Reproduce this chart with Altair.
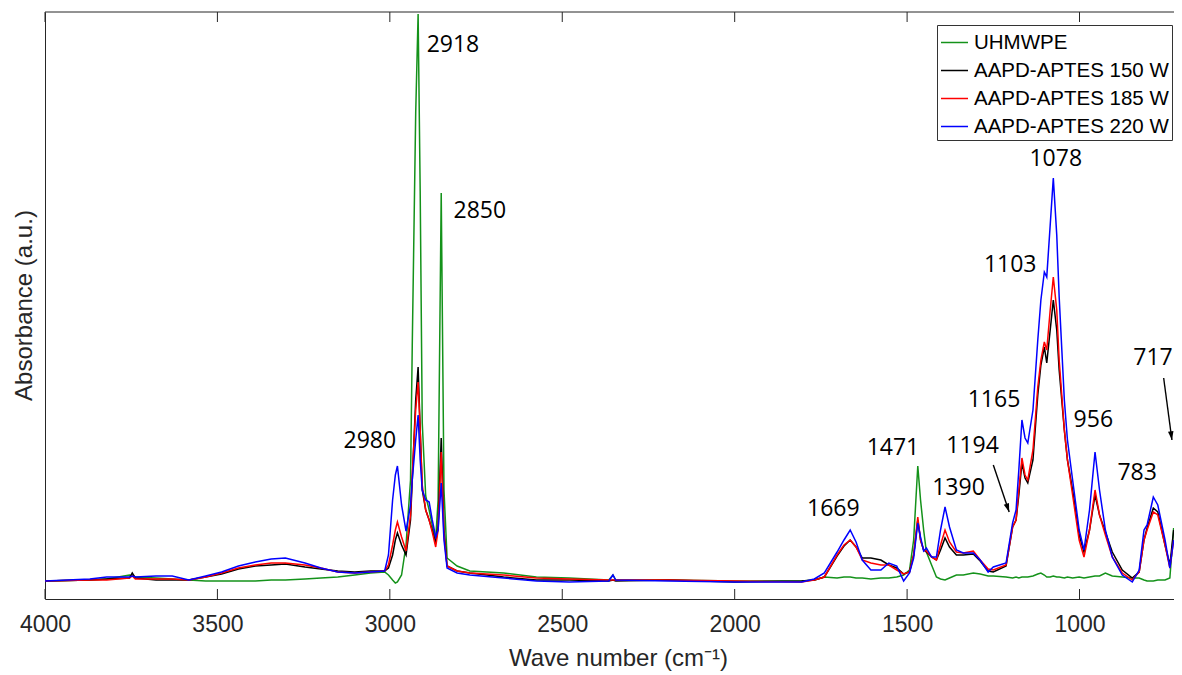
import altair as alt
import pandas as pd

# ---------------- data ----------------
WAVENUMBER = [4000, 3870, 3821, 3755, 3747, 3738, 3678, 3631, 3583, 3534,
              3488, 3439, 3390, 3344, 3303, 3246, 3200, 3151, 3102, 3056,
              3015, 3004, 2992, 2984, 2978, 2966, 2953, 2940, 2935, 2925,
              2918, 2912, 2906, 2896, 2886, 2877, 2867, 2860, 2851, 2843,
              2834, 2805, 2768, 2670, 2575, 2480, 2365, 2353, 2345, 2192,
              1999, 1806, 1769, 1740, 1703, 1683, 1665, 1648, 1630, 1605,
              1576, 1553, 1530, 1510, 1493, 1481, 1469, 1461, 1452, 1444,
              1429, 1415, 1403, 1390, 1377, 1357, 1337, 1308, 1288, 1265,
              1250, 1213, 1194, 1184, 1176, 1167, 1158, 1150, 1135, 1121,
              1112, 1102, 1095, 1085, 1076, 1066, 1059, 1044, 1035, 1020,
              1001, 987, 971, 955, 942, 925, 905, 876, 847, 827,
              813, 804, 786, 773, 752, 738, 727]

UHMWPE = [18, 19, 20, 24, 23, 22, 21, 20, 19, 18,
          18, 18, 18, 19, 19, 20, 21, 22, 24, 26,
          27, 24, 19, 16, 17, 24, 54, 119, 253, 486,
          585, 408, 176, 103, 89, 74, 60, 99, 406, 109,
          41, 33, 28, 26, 22, 21, 19, 24, 19, 19,
          18, 18, 19, 22, 21, 22, 22, 21, 21, 20,
          21, 21, 22, 24, 29, 59, 133, 99, 69, 47,
          34, 22, 20, 19, 21, 24, 24, 26, 25, 23,
          23, 22, 21, 22, 21, 22, 22, 22, 23, 25,
          26, 24, 22, 22, 23, 22, 22, 21, 22, 21,
          22, 21, 22, 23, 23, 26, 23, 22, 21, 21,
          19, 18, 18, 19, 19, 21, 71]

APTES_150 = [18, 19, 20, 21, 26, 21, 19, 19, 19, 22,
             25, 30, 33, 34, 35, 32, 30, 28, 27, 28,
             28, 31, 44, 59, 66, 54, 44, 79, 119, 199,
             232, 169, 109, 89, 79, 69, 56, 74, 161, 69,
             33, 28, 26, 22, 19, 19, 18, 19, 18, 19,
             17, 18, 19, 22, 43, 53, 59, 52, 41, 41,
             39, 34, 31, 25, 27, 44, 79, 59, 49, 47,
             42, 39, 49, 61, 52, 44, 44, 45, 38, 28,
             27, 33, 72, 79, 104, 136, 121, 116, 139, 204,
             234, 252, 236, 269, 299, 269, 229, 169, 139, 109,
             64, 47, 69, 104, 84, 67, 47, 29, 21, 27,
             59, 71, 91, 87, 54, 34, 69]

APTES_185 = [18, 19, 19, 21, 23, 20, 20, 20, 19, 22,
             26, 31, 34, 36, 36, 34, 31, 27, 26, 27,
             28, 34, 54, 69, 77, 62, 48, 84, 124, 189,
             217, 169, 114, 89, 79, 67, 52, 69, 147, 64,
             33, 28, 26, 24, 21, 20, 19, 19, 19, 19,
             18, 17, 19, 22, 44, 54, 59, 52, 39, 36,
             34, 34, 29, 25, 27, 44, 82, 59, 49, 48,
             42, 39, 54, 69, 57, 47, 46, 48, 39, 30,
             29, 34, 72, 79, 109, 141, 124, 119, 149, 212,
             239, 257, 249, 289, 322, 289, 239, 169, 139, 104,
             59, 42, 69, 109, 84, 64, 42, 26, 19, 27,
             59, 69, 87, 84, 54, 31, 59]

APTES_220 = [18, 20, 22, 22, 23, 22, 23, 23, 19, 23,
             27, 33, 37, 40, 41, 36, 31, 27, 26, 27,
             28, 44, 99, 124, 133, 94, 68, 94, 119, 159,
             184, 139, 109, 99, 97, 79, 62, 69, 116, 59,
             31, 26, 24, 21, 18, 17, 18, 24, 19, 18,
             17, 17, 20, 26, 47, 59, 69, 57, 39, 29,
             29, 36, 33, 18, 26, 41, 76, 62, 48, 51,
             42, 42, 69, 92, 72, 49, 46, 46, 39, 27,
             32, 36, 76, 89, 129, 179, 161, 156, 189, 259,
             299, 327, 322, 374, 421, 364, 302, 199, 159, 119,
             69, 49, 89, 147, 109, 69, 42, 24, 17, 29,
             69, 74, 102, 94, 59, 31, 59]

SERIES_NAMES = ["UHMWPE", "AAPD-APTES 150 W", "AAPD-APTES 185 W", "AAPD-APTES 220 W"]
SERIES_COLORS = ["#14921a", "#000000", "#ff0000", "#0000ff"]

TICK_VALUES = [4000, 3500, 3000, 2500, 2000, 1500, 1000]

PEAK_LABELS = ["2918", "2850", "2980", "1669", "1471", "1390", "1194",
               "1165", "1103", "1078", "956", "783", "717"]
PEAK_LABEL_WN = [2817, 2739, 3058, 1714, 1541, 1351, 1310, 1248, 1201, 1069, 960, 833, 787]
PEAK_LABEL_H = [554, 388, 158, 90, 151, 111, 153, 199, 334, 440, 179, 126, 241]

ARROW_START_WN = [1250, 756]
ARROW_START_H = [134, 221]
ARROW_END_WN = [1204, 732]
ARROW_END_H = [87, 159]
ARROW_ANGLE = [341, 352]

# ---------------- tables ----------------
rows = []
for name, vals in zip(SERIES_NAMES, [UHMWPE, APTES_150, APTES_185, APTES_220]):
    for wn, v in zip(WAVENUMBER, vals):
        rows.append({"series": name, "wn": wn, "absorbance": v})
spectra = pd.DataFrame(rows)

ticks_df = pd.DataFrame({"wn": TICK_VALUES})
labels_df = pd.DataFrame({"label": PEAK_LABELS, "wn": PEAK_LABEL_WN, "h": PEAK_LABEL_H})
arrows_df = pd.DataFrame({"x1": ARROW_START_WN, "y1": ARROW_START_H,
                          "x2": ARROW_END_WN, "y2": ARROW_END_H, "angle": ARROW_ANGLE})
edge_df = pd.DataFrame({"k": [0]})

W, H = 1129, 587
FONT = "Liberation Sans"
AXC = "#262626"

xscale = alt.Scale(domain=[726, 4000], reverse=True, nice=False, zero=False)
yscale = alt.Scale(domain=[0, 587], nice=False, zero=False)

lines = alt.Chart(spectra).mark_line(strokeWidth=1.5, clip=True).encode(
    x=alt.X("wn:Q", scale=xscale,
            axis=alt.Axis(values=TICK_VALUES, format="d", ticks=False, grid=False,
                          labelFont=FONT, labelFontSize=23, labelColor=AXC,
                          labelPadding=14, labelFlush=False, labelOverlap=False,
                          domainColor=AXC, domainWidth=1,
                          title="Wave number (cm⁻¹)", titleFont=FONT, titleFontSize=24,
                          titleFontWeight="normal", titleColor=AXC,
                          titleX=573, titleY=66, titleBaseline="alphabetic")),
    y=alt.Y("absorbance:Q", scale=yscale,
            axis=alt.Axis(labels=False, ticks=False, grid=False,
                          domainColor=AXC, domainWidth=1,
                          title="Absorbance (a.u.)", titleFont=FONT, titleFontSize=24,
                          titleFontWeight="normal", titleColor=AXC,
                          titleX=-14, titleY=293, titleBaseline="alphabetic")),
    color=alt.Color("series:N",
                    scale=alt.Scale(domain=SERIES_NAMES, range=SERIES_COLORS),
                    legend=alt.Legend(title=None, orient="none", legendX=892, legendY=13,
                                      symbolType="stroke", symbolSize=729,
                                      symbolStrokeWidth=1.5, labelFont=FONT,
                                      labelFontSize=20.5, labelColor="#000000",
                                      labelOffset=5, labelLimit=400, padding=3,
                                      rowPadding=3, strokeColor="#333333",
                                      fillColor="#ffffff", cornerRadius=0)),
    order=alt.Order("wn:Q"),
)

bottom_ticks = alt.Chart(ticks_df).mark_rule(color=AXC, strokeWidth=1).encode(
    x=alt.X("wn:Q", scale=xscale), y=alt.value(H), y2=alt.value(H - 10))
top_ticks = alt.Chart(ticks_df).mark_rule(color=AXC, strokeWidth=1).encode(
    x=alt.X("wn:Q", scale=xscale), y=alt.value(0), y2=alt.value(10))
top_border = alt.Chart(edge_df).mark_rule(color=AXC, strokeWidth=1).encode(
    x=alt.value(0), x2=alt.value(W), y=alt.value(0))

peak_text = alt.Chart(labels_df).mark_text(
    font="Open Sans", fontSize=23, color="#000000", align="center", baseline="middle"
).encode(x=alt.X("wn:Q", scale=xscale), y=alt.Y("h:Q", scale=yscale), text="label:N")

arrow_lines = alt.Chart(arrows_df).mark_rule(color="#000000", strokeWidth=1.4).encode(
    x=alt.X("x1:Q", scale=xscale), y=alt.Y("y1:Q", scale=yscale),
    x2="x2:Q", y2="y2:Q")
arrow_heads = alt.Chart(arrows_df).mark_point(
    shape="M0,0L-0.32,-1L0.32,-1Z", filled=True, color="#000000", size=300, opacity=1
).encode(x=alt.X("x2:Q", scale=xscale), y=alt.Y("y2:Q", scale=yscale),
         angle=alt.Angle("angle:Q", scale=None))

chart = alt.layer(
    lines, bottom_ticks, top_ticks, top_border, peak_text, arrow_lines, arrow_heads
).properties(
    width=W, height=H,
    autosize=alt.AutoSizeParams(type="none"),
    padding={"left": 37, "top": 4, "right": 0, "bottom": 76},
    background="#ffffff",
).configure_view(stroke=None)

chart.save("out.html", embed_options={"renderer": "svg", "actions": False})
